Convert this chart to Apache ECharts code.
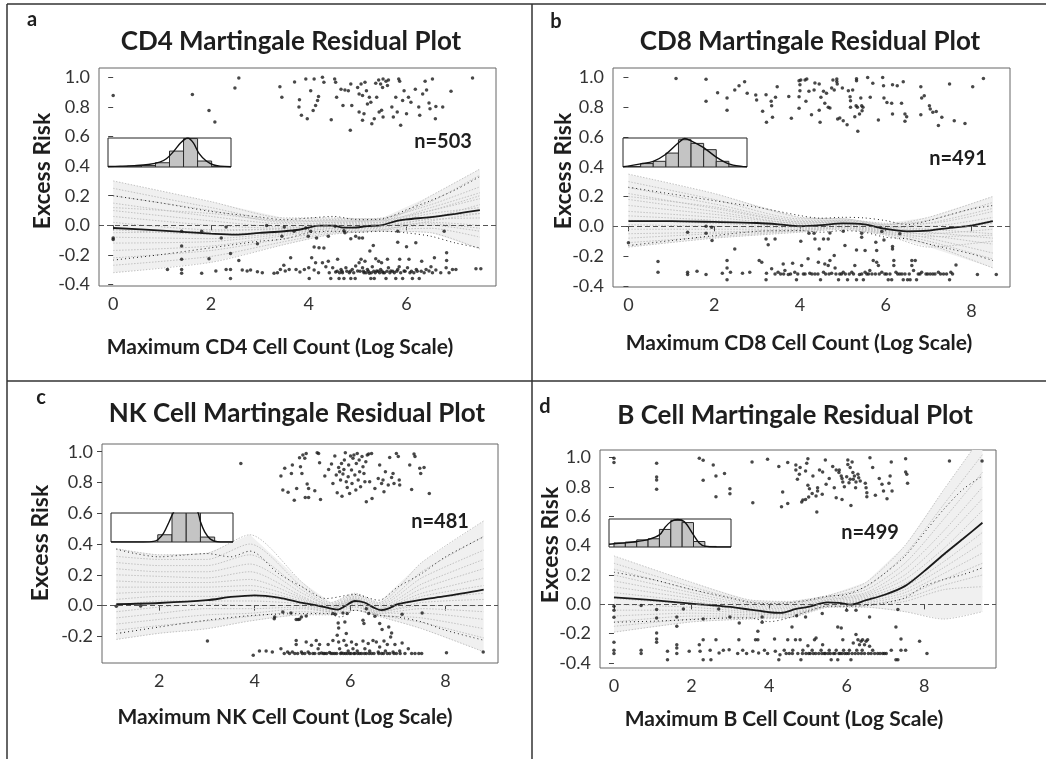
<!DOCTYPE html>
<html><head><meta charset="utf-8">
<script src="https://cdn.jsdelivr.net/npm/echarts@6/dist/echarts.min.js"></script>
<style>html,body{margin:0;padding:0;background:#fff}#c{width:1046px;height:759px}</style>
</head><body><div id="c"></div>
<script>
// ---------------- tick labels ----------------
const yTicksFull = [-0.4,-0.2,0,0.2,0.4,0.6,0.8,1.0];
const yTicksNK = [-0.2,0,0.2,0.4,0.6,0.8,1.0];
const cd4XTicks = [0,2,4,6];
const cd8XTicks = [0,2,4,6,8];
const nkXTicks = [2,4,6,8];
const bXTicks = [0,2,4,6,8];

// ---------------- texts ----------------
const panelLetters = ['a','b','c','d'];
const panelTitles = ['CD4 Martingale Residual Plot','CD8 Martingale Residual Plot','NK Cell Martingale Residual Plot','B Cell Martingale Residual Plot'];
const nLabels = ['n=503','n=491','n=481','n=499'];
const yTitle = 'Excess Risk';
const xTitles = ['Maximum CD4 Cell Count (Log Scale)','Maximum CD8 Cell Count (Log Scale)','Maximum NK Cell Count (Log Scale)','Maximum B Cell Count (Log Scale)'];

// ---------------- CD4 ----------------
const cd4Points = [
[0,0.877],[1.62,0.884],[1.96,0.776],[2.08,0.698],[2.49,0.928],[2.57,0.996],[3.41,0.937],[3.45,0.866],[3.71,0.969],[3.81,0.848],[3.80,0.80],[3.85,0.743],[3.97,0.72],[3.94,0.989],[4.04,0.91],[4.11,0.989],[4.14,0.81],[4.18,0.843],[4.09,0.776],[4.28,1.0],[4.2,0.87],[4.31,0.966],[4.46,0.714],[4.53,0.989],[4.55,0.966],[4.57,0.866],[4.66,0.92],[4.70,0.81],[4.74,0.915],[4.81,0.91],[4.86,0.955],[4.85,0.642],[4.88,0.81],[5.0,0.932],[5.03,0.888],[5.07,0.955],[5.1,0.877],[5.03,0.766],[5.13,0.754],[5.1,0.71],[5.15,0.966],[5.18,0.91],[5.24,0.866],[5.27,0.832],[5.2,0.82],[5.29,0.687],[5.34,0.72],[5.37,0.96],[5.39,0.866],[5.44,0.766],[5.43,0.982],[5.47,0.955],[5.51,0.932],[5.49,0.777],[5.52,0.989],[5.58,0.973],[5.61,0.944],[5.52,0.732],[5.63,0.982],[5.70,0.799],[5.73,0.732],[5.78,0.866],[5.84,0.989],[5.86,0.973],[5.81,0.766],[5.88,0.676],[5.92,0.843],[5.95,0.91],[6.0,0.754],[6.04,0.866],[6.09,0.832],[6.18,0.92],[6.25,0.799],[6.27,0.743],[6.33,0.888],[6.38,0.973],[6.41,0.915],[6.46,0.826],[6.48,0.788],[6.53,0.989],[6.59,0.72],[6.60,0.803],[6.74,0.799],[6.91,0.906],[7.35,0.996],
[0,-0.085],[0,-0.095],[1.40,-0.04],[1.81,-0.04],[2.31,-0.012],[2.21,-0.085],[1.40,-0.14],[2.40,-0.19],[2.95,-0.125],[3.14,-0.002],[3.50,-0.012],[3.45,-0.074],[3.70,-0.04],[3.94,-0.018],[3.99,-0.074],[4.16,-0.085],[4.04,-0.04],[4.40,-0.074],[4.54,-0.007],[4.72,-0.036],[4.74,-0.05],[4.86,-0.09],[4.96,-0.074],[5.03,-0.085],[5.1,-0.085],[5.82,-0.04],[5.82,-0.114],[6.77,-0.04],[4.11,-0.147],[4.21,-0.152],[4.31,-0.154],[5.32,-0.136],[5.25,-0.174],[6.0,-0.145],[6.19,-0.118],
[1.11,-0.298],[1.40,-0.23],[1.40,-0.298],[1.40,-0.324],[1.96,-0.226],[1.81,-0.324],[2.10,-0.309],[2.31,-0.298],[2.40,-0.298],[2.40,-0.36],[2.57,-0.237],[2.64,-0.302],[2.74,-0.309],[2.81,-0.302],[2.95,-0.313],[3.05,-0.32],[3.29,-0.324],[3.36,-0.32],[3.42,-0.298],[3.49,-0.27],[3.52,-0.309],[3.60,-0.298],[3.63,-0.219],[3.74,-0.298],[3.82,-0.315],[3.91,-0.298],[4.0,-0.286],[4.01,-0.36],[4.06,-0.219],[4.14,-0.253],[4.11,-0.302],[4.20,-0.32],[4.28,-0.253],[4.35,-0.28],[4.40,-0.242],[4.42,-0.32],[4.45,-0.36],[4.49,-0.286],[4.55,-0.315],[4.59,-0.23],[4.62,-0.36],[4.66,-0.298],[4.69,-0.32],[4.72,-0.36],[4.76,-0.286],[4.83,-0.32],[4.86,-0.36],[4.89,-0.298],[4.95,-0.36],[4.96,-0.275],[5.0,-0.309],[5.03,-0.253],[5.07,-0.23],[5.1,-0.286],[5.13,-0.32],[5.15,-0.242],[5.20,-0.298],[5.24,-0.324],[5.27,-0.36],[5.30,-0.28],[5.34,-0.36],[5.37,-0.226],[5.39,-0.309],[5.43,-0.242],[5.47,-0.298],[5.49,-0.253],[5.52,-0.32],[5.58,-0.36],[5.61,-0.23],[5.63,-0.286],[5.68,-0.309],[5.75,-0.32],[5.78,-0.36],[5.82,-0.298],[5.85,-0.28],[5.86,-0.23],[5.92,-0.36],[5.95,-0.309],[6.02,-0.286],[6.05,-0.23],[6.07,-0.32],[6.12,-0.36],[6.20,-0.298],[6.26,-0.36],[6.31,-0.242],[6.36,-0.32],[6.40,-0.298],[6.46,-0.309],[6.50,-0.28],[6.53,-0.32],[6.57,-0.219],[6.60,-0.302],[6.70,-0.32],[6.81,-0.286],[6.82,-0.186],[6.82,-0.237],[6.87,-0.32],[6.94,-0.298],[7.01,-0.298],[7.42,-0.293],[7.52,-0.293],
[4.58,-0.31],[4.63,-0.32],[4.68,-0.31],[4.78,-0.31],[4.85,-0.31],[4.92,-0.32],[5.05,-0.31],[5.12,-0.31],[5.17,-0.32],[5.22,-0.31],[5.28,-0.32],[5.33,-0.31],[5.36,-0.32],[5.42,-0.31],[5.45,-0.32],[5.5,-0.31],[5.55,-0.32],[5.6,-0.31],[5.66,-0.32],[5.72,-0.31],[5.8,-0.31],[5.88,-0.32],[5.97,-0.31],[6.1,-0.31],[6.15,-0.32],[6.22,-0.31],[6.3,-0.31]
];
const cd4Curve = [[0,-0.018],[1,-0.036],[2,-0.056],[2.5,-0.063],[3,-0.051],[3.5,-0.04],[3.8,-0.03],[4.0,-0.015],[4.2,-0.002],[4.5,-0.002],[4.7,-0.015],[4.9,-0.016],[5.2,-0.005],[5.5,0.002],[5.8,0.03],[6.0,0.04],[6.5,0.056],[7.0,0.078],[7.5,0.103]];
const cd4Upper = [[0,0.20],[1,0.15],[2,0.094],[3,0.056],[3.5,0.038],[4,0.049],[4.5,0.06],[5,0.038],[5.5,0.043],[6,0.105],[6.5,0.168],[7,0.24],[7.5,0.33]];
const cd4Lower = [[0,-0.235],[1,-0.197],[2,-0.152],[3,-0.107],[3.5,-0.092],[4,-0.051],[4.5,-0.04],[5,-0.047],[5.5,-0.04],[6,-0.051],[6.5,-0.074],[7,-0.119],[7.5,-0.152]];
const cd4BootX = [0,2,3.5,4.5,5.5,6.5,7.5];
const cd4Boot = [
[0.30,0.16,0.05,0.05,0.04,0.10,0.18],
[0.25,0.12,0.03,0.04,0.05,0.14,0.26],
[0.20,0.10,0.02,0.03,0.03,0.12,0.22],
[0.15,0.06,0.01,0.02,0.04,0.16,0.34],
[0.10,0.03,-0.01,0.02,0.02,0.08,0.12],
[0.06,0.00,-0.02,0.01,0.02,0.10,0.20],
[0.02,-0.03,-0.03,0.00,0.01,0.06,0.08],
[-0.03,-0.06,-0.04,-0.01,0.00,0.04,0.05],
[-0.08,-0.09,-0.05,-0.02,-0.01,0.05,0.14],
[-0.12,-0.11,-0.06,-0.02,-0.01,0.02,0.00],
[-0.17,-0.14,-0.07,-0.03,-0.02,0.00,-0.04],
[-0.22,-0.17,-0.09,-0.04,-0.03,-0.02,-0.08],
[-0.27,-0.21,-0.11,-0.05,-0.03,0.03,0.08],
[-0.32,-0.25,-0.13,-0.06,-0.04,-0.05,-0.16],
[0.12,0.08,0.03,0.03,0.03,0.20,0.38],
[-0.05,-0.04,-0.02,0.00,0.00,0.01,-0.02]
];
const cd4HistBars = [0.01,0.03,0.05,0.15,0.56,1.0,0.21,0.01];
const cd4HistCurve = [[-0.38,0.02],[0.5,0.03],[1.5,0.05],[2.5,0.09],[3.3,0.17],[3.8,0.3],[4.3,0.55],[4.8,0.85],[5.3,1.02],[5.7,0.85],[6.1,0.48],[6.6,0.22],[7.1,0.08],[7.6,0.03],[8.38,0.01]];

// ---------------- CD8 ----------------
const cd8Points = [
[1.11,0.993],[1.81,0.987],[1.81,0.84],[2.08,0.897],[2.30,0.861],[2.30,0.78],[2.48,0.915],[2.58,0.944],[2.71,0.971],[2.77,0.893],[2.97,0.881],[2.99,0.848],[3.13,0.772],[3.21,0.884],[3.22,0.698],[3.33,0.839],[3.34,0.81],[3.36,0.732],[3.43,0.866],[3.47,0.937],[3.74,0.872],[3.80,0.725],[3.98,0.978],[4.02,0.982],[4.0,0.951],[3.98,0.87],[4.0,0.91],[3.98,0.792],[4.12,0.982],[4.16,0.989],[4.14,0.839],[4.21,0.906],[4.27,0.749],[4.35,0.962],[4.33,0.915],[4.45,0.955],[4.45,0.78],[4.47,0.698],[4.49,0.866],[4.55,0.906],[4.58,0.826],[4.62,0.893],[4.66,0.799],[4.70,0.794],[4.74,0.928],[4.77,0.982],[4.80,0.915],[4.86,0.989],[4.86,0.973],[4.87,0.955],[4.88,0.72],[4.93,0.727],[4.99,0.928],[5.01,0.709],[5.10,0.682],[5.13,0.91],[5.17,0.87],[5.18,0.843],[5.18,0.799],[5.23,0.915],[5.28,0.736],[5.32,0.991],[5.32,0.978],[5.31,0.81],[5.34,0.799],[5.35,0.638],[5.39,0.754],[5.42,0.861],[5.44,0.81],[5.47,0.799],[5.45,0.776],[5.58,1.0],[5.64,0.866],[5.70,0.96],[5.83,0.714],[5.93,1.0],[5.95,0.944],[5.96,0.861],[6.03,0.832],[6.14,0.826],[6.16,0.951],[6.16,0.754],[6.27,0.944],[6.37,0.826],[6.41,0.971],[6.45,0.754],[6.45,0.705],[6.49,0.736],[6.82,0.937],[6.82,0.749],[6.84,0.861],[6.90,0.877],[7.02,0.81],[7.04,0.787],[7.10,0.765],[7.18,0.77],[7.23,0.676],[7.31,0.732],[7.49,0.955],[7.60,0.709],[7.85,0.691],[8.03,0.937],[8.28,0.993],
[0,-0.11],[1.38,-0.04],[1.81,0.0],[1.81,-0.047],[1.94,-0.007],[1.95,-0.096],[2.48,-0.152],[3.21,-0.085],[3.26,-0.125],[3.42,-0.085],[4.02,-0.10],[4.21,-0.047],[4.33,-0.047],[4.35,-0.085],[4.45,-0.152],[4.55,-0.085],[4.66,-0.085],[4.70,-0.045],[5.05,-0.13],[5.01,-0.034],[5.32,-0.159],[5.44,-0.047],[5.52,-0.163],[5.44,-0.074],[5.77,-0.107],[5.79,-0.163],[5.91,-0.036],[5.96,-0.092],[6.16,-0.136],[6.16,-0.152],[6.33,-0.05],
[0.69,-0.237],[0.69,-0.309],[1.38,-0.309],[1.38,-0.324],[1.60,-0.302],[1.81,-0.324],[2.19,-0.315],[2.30,-0.23],[2.30,-0.28],[2.30,-0.36],[2.38,-0.309],[2.66,-0.315],[2.83,-0.309],[3.05,-0.23],[3.11,-0.242],[3.21,-0.36],[3.22,-0.315],[3.34,-0.286],[3.42,-0.32],[3.49,-0.309],[3.61,-0.253],[3.65,-0.298],[3.73,-0.324],[3.83,-0.248],[3.88,-0.309],[3.92,-0.36],[4.04,-0.264],[4.08,-0.32],[4.19,-0.219],[4.23,-0.315],[4.35,-0.32],[4.43,-0.242],[4.48,-0.36],[4.55,-0.309],[4.58,-0.253],[4.66,-0.264],[4.70,-0.23],[4.74,-0.315],[4.80,-0.197],[4.82,-0.28],[4.90,-0.36],[4.93,-0.32],[5.01,-0.309],[5.11,-0.36],[5.15,-0.32],[5.21,-0.309],[5.28,-0.264],[5.32,-0.36],[5.39,-0.324],[5.48,-0.36],[5.52,-0.309],[5.60,-0.32],[5.63,-0.298],[5.71,-0.23],[5.79,-0.242],[5.83,-0.264],[5.85,-0.32],[5.91,-0.309],[5.98,-0.32],[6.06,-0.36],[6.14,-0.36],[6.19,-0.23],[6.19,-0.264],[6.24,-0.309],[6.33,-0.32],[6.41,-0.36],[6.45,-0.32],[6.51,-0.36],[6.57,-0.36],[6.61,-0.23],[6.61,-0.264],[6.65,-0.298],[6.69,-0.23],[6.72,-0.36],[6.76,-0.32],[6.84,-0.309],[6.94,-0.32],[7.04,-0.32],[7.15,-0.32],[7.23,-0.309],[7.35,-0.32],[7.49,-0.36],[7.52,-0.309],[7.56,-0.32],[7.64,-0.26],[8.14,-0.324],[8.58,-0.324],
[3.55,-0.32],[3.62,-0.32],[3.78,-0.32],[3.95,-0.32],[4.12,-0.32],[4.28,-0.32],[4.42,-0.32],[4.6,-0.32],[4.68,-0.32],[4.84,-0.32],[4.97,-0.32],[5.06,-0.32],[5.25,-0.32],[5.44,-0.32],[5.56,-0.32],[5.68,-0.32],[5.76,-0.32],[6.02,-0.32],[6.1,-0.32],[6.28,-0.32],[6.38,-0.32],[6.55,-0.32],[6.8,-0.32],[6.98,-0.32],[7.1,-0.32],[7.28,-0.32],[7.42,-0.32]
];
const cd8Curve = [[0,0.034],[1,0.034],[2,0.029],[3,0.022],[3.5,0.013],[4,0.0],[4.5,0.007],[5,0.02],[5.5,0.013],[6,-0.018],[6.5,-0.034],[7,-0.029],[7.5,-0.011],[8,0.004],[8.5,0.034]];
const cd8Upper = [[0,0.262],[1,0.217],[2,0.172],[3,0.128],[4,0.072],[4.5,0.054],[5,0.06],[5.5,0.056],[6,0.038],[6.5,0.011],[7,0.038],[7.5,0.078],[8,0.116],[8.5,0.139]];
const cd8Lower = [[0,-0.13],[1,-0.096],[2,-0.063],[3,-0.034],[4,-0.029],[4.5,-0.04],[5,-0.029],[5.5,-0.04],[6,-0.074],[6.5,-0.085],[7,-0.119],[7.5,-0.152],[8,-0.186],[8.5,-0.23]];
const cd8BootX = [0,2,4,5,6,7,8.5];
const cd8Boot = [
[0.35,0.22,0.06,0.05,0.02,0.02,0.10],
[0.30,0.18,0.05,0.05,0.01,0.04,0.16],
[0.26,0.15,0.04,0.04,0.00,-0.02,-0.05],
[0.22,0.12,0.03,0.04,0.01,0.06,0.20],
[0.18,0.10,0.02,0.03,-0.01,-0.04,-0.08],
[0.14,0.08,0.02,0.03,0.00,0.00,0.06],
[0.10,0.06,0.01,0.02,-0.02,-0.02,0.02],
[0.07,0.04,0.00,0.02,-0.02,-0.06,-0.12],
[0.04,0.02,0.00,0.01,-0.03,-0.03,0.04],
[0.01,0.00,-0.01,0.01,-0.03,-0.08,-0.18],
[-0.02,-0.02,-0.02,0.00,-0.04,-0.05,-0.02],
[-0.05,-0.04,-0.02,0.00,-0.04,-0.10,-0.22],
[-0.08,-0.05,-0.03,-0.01,-0.05,-0.07,-0.06],
[-0.11,-0.07,-0.03,-0.01,-0.05,-0.12,-0.28],
[-0.14,-0.08,-0.04,-0.02,-0.06,-0.14,-0.10],
[0.20,0.13,0.03,0.03,-0.01,0.02,0.12]
];
const cd8HistBars = [0.02,0.12,0.2,0.49,0.96,0.83,0.61,0.2,0.03];
const cd8HistCurve = [[-0.4,0.01],[0,0.03],[1,0.11],[2,0.2],[3,0.45],[4,0.85],[4.5,1.0],[5,0.92],[6,0.68],[7,0.35],[8,0.11],[9,0.02],[9.44,0.01]];

// ---------------- NK ----------------
const nkPoints = [
[3.71,0.924],[4.55,0.842],[4.59,0.751],[4.63,0.892],[4.70,0.736],[4.77,0.859],[4.79,0.913],[4.83,0.685],[4.88,0.761],[4.94,0.961],[4.96,0.902],[4.99,0.859],[5.01,0.978],[5.05,0.957],[5.08,0.989],[5.06,0.703],[5.10,0.79],[5.13,0.703],[5.13,0.761],[5.26,0.746],[5.31,0.993],[5.34,0.989],[5.36,0.928],[5.38,0.69],[5.47,0.842],[5.55,0.885],[5.61,0.92],[5.64,0.794],[5.68,0.972],[5.71,0.848],[5.73,0.733],[5.76,0.898],[5.78,0.87],[5.80,0.816],[5.82,0.924],[5.83,0.711],[5.85,0.855],[5.87,0.885],[5.88,0.946],[5.90,0.993],[5.92,0.805],[5.94,0.768],[5.96,0.837],[5.97,0.913],[5.99,0.729],[6.01,0.972],[6.03,0.881],[6.04,0.794],[6.06,0.957],[6.08,0.978],[6.10,0.848],[6.12,0.751],[6.13,0.924],[6.15,0.989],[6.17,0.816],[6.19,0.946],[6.20,0.87],[6.22,0.772],[6.25,0.968],[6.27,0.902],[6.29,0.859],[6.31,0.805],[6.33,0.935],[6.34,0.675],[6.36,0.978],[6.39,0.985],[6.41,0.805],[6.45,0.989],[6.46,0.696],[6.52,0.761],[6.59,0.826],[6.62,0.913],[6.66,0.794],[6.69,0.816],[6.71,0.74],[6.74,0.87],[6.80,0.783],[6.83,0.963],[6.87,0.833],[6.90,0.859],[6.92,0.794],[6.97,0.989],[7.01,0.968],[7.03,0.816],[7.04,0.783],[7.25,0.913],[7.29,0.755],[7.34,0.985],[7.36,0.968],[7.46,0.892],[7.48,0.859],[7.55,0.898],[7.66,0.729],
[1.10,-0.004],[1.61,-0.002],[3.01,-0.23],[4.41,-0.085],[4.42,-0.074],[4.59,-0.041],[4.76,-0.048],[4.87,-0.091],[4.91,-0.091],[4.94,-0.089],[4.98,-0.074],[5.08,-0.067],[5.64,-0.052],[5.69,-0.056],[5.75,-0.113],[5.76,-0.145],[5.85,-0.048],[5.89,-0.106],[5.94,-0.052],[5.92,-0.182],[6.27,-0.095],[6.29,-0.117],[6.34,-0.02],[6.39,-0.052],[6.52,-0.069],[6.62,-0.117],[6.67,-0.156],[6.81,-0.139],[6.87,-0.178],[7.09,-0.056],[7.51,-0.048],[8.02,-0.306],[8.79,-0.302],
[3.97,-0.323],[4.10,-0.295],[4.24,-0.295],[4.37,-0.302],[4.55,-0.28],[4.69,-0.302],[4.73,-0.312],[4.79,-0.302],[4.87,-0.226],[4.87,-0.252],[4.90,-0.312],[4.98,-0.302],[5.05,-0.312],[5.08,-0.236],[5.12,-0.302],[5.19,-0.258],[5.22,-0.312],[5.29,-0.226],[5.33,-0.28],[5.36,-0.252],[5.40,-0.308],[5.47,-0.312],[5.54,-0.252],[5.57,-0.304],[5.64,-0.226],[5.68,-0.312],[5.73,-0.193],[5.76,-0.236],[5.78,-0.28],[5.82,-0.308],[5.87,-0.226],[5.90,-0.312],[5.92,-0.258],[5.96,-0.295],[5.99,-0.312],[6.03,-0.236],[6.06,-0.28],[6.10,-0.312],[6.13,-0.252],[6.15,-0.295],[6.20,-0.312],[6.27,-0.23],[6.31,-0.28],[6.34,-0.312],[6.38,-0.247],[6.41,-0.295],[6.45,-0.312],[6.48,-0.226],[6.55,-0.236],[6.59,-0.302],[6.62,-0.269],[6.66,-0.312],[6.71,-0.23],[6.74,-0.295],[6.78,-0.252],[6.83,-0.312],[6.85,-0.204],[6.90,-0.302],[6.94,-0.252],[6.97,-0.312],[7.04,-0.295],[7.09,-0.243],[7.15,-0.312],[7.22,-0.28],[7.29,-0.312],[7.36,-0.312],[7.44,-0.312],[7.50,-0.312],
[4.62,-0.312],[4.84,-0.312],[5.0,-0.312],[5.15,-0.312],[5.26,-0.312],[5.35,-0.312],[5.44,-0.312],[5.51,-0.312],[5.6,-0.312],[5.64,-0.312],[5.72,-0.312],[5.8,-0.312],[5.86,-0.312],[5.94,-0.312],[6.02,-0.312],[6.08,-0.312],[6.16,-0.312],[6.24,-0.312],[6.3,-0.312],[6.4,-0.312],[6.5,-0.312],[6.6,-0.312],[6.7,-0.312],[6.78,-0.312],[6.92,-0.312],[7.05,-0.312]
];
const nkCurve = [[1.1,0.009],[2,0.017],[3,0.035],[3.5,0.056],[4,0.067],[4.5,0.052],[5,0.017],[5.3,0.002],[5.6,-0.02],[5.75,-0.026],[5.9,-0.002],[6.1,0.03],[6.3,0.02],[6.5,-0.013],[6.65,-0.03],[6.8,-0.02],[7,0.009],[7.5,0.039],[8,0.061],[8.8,0.104]];
const nkUpper = [[1.1,0.367],[1.5,0.338],[2,0.317],[2.5,0.328],[3,0.338],[3.5,0.317],[3.9,0.354],[4.5,0.208],[5,0.121],[5.5,0.046],[6.1,0.072],[6.6,0.035],[7,0.121],[7.5,0.208],[8,0.317],[8.8,0.447]];
const nkLower = [[1.1,-0.182],[2,-0.139],[3,-0.095],[4,-0.063],[5,-0.052],[5.5,-0.052],[5.8,-0.074],[6.1,-0.03],[6.6,-0.063],[7,-0.074],[7.5,-0.106],[8,-0.16],[8.8,-0.225]];
const nkBootX = [1.1,2,3,3.9,5,5.6,6.1,6.6,7.5,8.8];
const nkBoot = [
[0.37,0.33,0.34,0.46,0.15,0.02,0.08,0.02,0.28,0.55],
[0.32,0.30,0.30,0.40,0.12,0.01,0.07,0.01,0.22,0.45],
[0.28,0.26,0.26,0.33,0.10,0.00,0.06,0.00,0.18,0.36],
[0.24,0.22,0.22,0.27,0.08,0.00,0.05,-0.01,0.14,0.30],
[0.20,0.19,0.18,0.22,0.06,-0.01,0.05,-0.02,0.11,0.24],
[0.16,0.15,0.15,0.17,0.05,-0.01,0.04,-0.02,0.08,0.18],
[0.12,0.12,0.12,0.13,0.04,-0.02,0.04,-0.03,0.06,0.13],
[0.08,0.09,0.09,0.10,0.03,-0.02,0.03,-0.03,0.04,0.08],
[0.04,0.06,0.06,0.06,0.02,-0.02,0.03,-0.04,0.02,0.04],
[0.00,0.03,0.03,0.03,0.01,-0.03,0.02,-0.04,0.00,0.00],
[-0.04,-0.01,0.01,0.00,0.00,-0.03,0.02,-0.05,-0.02,-0.04],
[-0.08,-0.05,-0.02,-0.02,-0.01,-0.04,0.01,-0.05,-0.05,-0.09],
[-0.12,-0.09,-0.06,-0.05,-0.02,-0.04,0.00,-0.06,-0.08,-0.15],
[-0.16,-0.13,-0.10,-0.07,-0.04,-0.05,-0.01,-0.06,-0.11,-0.21],
[-0.22,-0.18,-0.15,-0.10,-0.06,-0.06,-0.03,-0.07,-0.15,-0.30]
];
const nkHistBars = [0.25,1.0,1.0,0.17];
const nkHistCurve = [[-3.29,0],[-1,0],[-0.3,0.02],[0,0.08],[0.4,0.3],[0.8,0.7],[1.2,1.1],[1.6,1.25],[2.0,1.12],[2.4,1.25],[2.8,1.05],[3.0,0.7],[3.3,0.35],[3.7,0.1],[4.2,0.01],[5.29,0]];

// ---------------- B cell ----------------
const bPoints = [
[0,0.995],[0,0.966],[1.10,0.961],[1.10,0.868],[1.10,0.847],[1.10,0.784],[2.20,0.995],[2.30,0.982],[2.30,0.845],[2.56,0.95],[2.63,0.875],[2.63,0.734],[2.85,0.891],[2.99,0.788],[2.99,0.754],[3.56,0.970],[3.58,0.693],[3.96,0.989],[4.25,0.939],[4.32,0.665],[4.35,0.766],[4.48,0.688],[4.48,0.966],[4.69,0.95],[4.69,0.916],[4.73,0.852],[4.78,0.886],[4.80,0.932],[4.84,0.697],[4.87,0.711],[4.94,0.909],[4.94,0.715],[4.97,0.961],[5.0,0.993],[5.0,0.811],[5.02,0.731],[5.04,0.788],[5.11,0.756],[5.13,0.875],[5.21,0.738],[5.23,0.629],[5.25,0.772],[5.25,0.795],[5.30,0.916],[5.37,0.75],[5.38,0.902],[5.45,0.984],[5.47,0.818],[5.55,0.857],[5.64,0.939],[5.68,0.795],[5.73,0.916],[5.73,0.727],[5.80,0.898],[5.81,0.916],[5.86,0.875],[5.88,0.715],[5.88,0.857],[5.90,0.834],[5.94,0.802],[6.00,0.870],[6.03,0.984],[6.03,0.954],[6.06,0.829],[6.09,0.932],[6.09,0.852],[6.11,0.674],[6.14,0.97],[6.16,0.898],[6.17,0.852],[6.20,0.875],[6.23,0.795],[6.24,0.834],[6.29,0.886],[6.31,0.863],[6.35,0.841],[6.48,0.825],[6.50,0.795],[6.52,0.761],[6.52,0.734],[6.60,1.0],[6.67,0.932],[6.74,0.743],[6.84,0.857],[6.91,0.818],[6.95,0.772],[7.04,0.72],[7.09,0.825],[7.12,0.875],[7.17,0.772],[7.15,0.97],[7.52,0.993],[7.52,0.902],[7.55,0.886],[7.57,0.825],[8.65,0.977],[9.49,0.977],
[0,-0.013],[0,-0.04],[0,-0.088],[0.70,-0.008],[1.10,-0.036],[1.10,-0.093],[1.10,-0.195],[1.10,-0.236],[1.62,-0.086],[1.62,-0.15],[1.79,-0.031],[2.30,-0.10],[2.70,-0.031],[2.99,-0.086],[3.23,-0.127],[3.71,-0.184],[3.82,-0.086],[3.82,-0.122],[4.59,-0.154],[4.71,-0.077],[4.94,-0.086],[5.37,-0.063],[5.77,-0.154],[5.86,-0.161],[6.0,-0.04],[6.24,-0.04],[6.59,-0.086],[7.32,-0.036],[7.27,-0.154],
[0,-0.259],[0,-0.313],[0,-0.336],[0.70,-0.313],[0.70,-0.336],[1.10,-0.259],[1.38,-0.32],[1.38,-0.377],[1.62,-0.275],[1.62,-0.298],[1.62,-0.336],[1.94,-0.32],[2.20,-0.275],[2.30,-0.241],[2.22,-0.32],[2.30,-0.377],[2.50,-0.377],[2.48,-0.313],[2.63,-0.241],[2.71,-0.332],[2.82,-0.313],[2.97,-0.309],[3.22,-0.241],[3.19,-0.336],[3.32,-0.313],[3.42,-0.336],[3.58,-0.32],[3.65,-0.241],[3.71,-0.241],[3.73,-0.332],[3.88,-0.313],[3.96,-0.336],[4.14,-0.236],[4.16,-0.32],[4.25,-0.377],[4.28,-0.343],[4.39,-0.313],[4.48,-0.241],[4.52,-0.336],[4.61,-0.313],[4.68,-0.241],[4.74,-0.336],[4.80,-0.241],[4.82,-0.377],[4.87,-0.313],[4.95,-0.336],[5.0,-0.282],[5.06,-0.336],[5.11,-0.313],[5.17,-0.241],[5.21,-0.229],[5.28,-0.336],[5.34,-0.313],[5.38,-0.275],[5.45,-0.336],[5.55,-0.313],[5.60,-0.377],[5.66,-0.336],[5.73,-0.313],[5.77,-0.377],[5.83,-0.336],[5.90,-0.241],[5.92,-0.313],[6.0,-0.336],[6.07,-0.313],[6.11,-0.377],[6.17,-0.263],[6.24,-0.206],[6.26,-0.313],[6.29,-0.241],[6.33,-0.275],[6.37,-0.252],[6.40,-0.313],[6.41,-0.241],[6.46,-0.275],[6.50,-0.252],[6.54,-0.241],[6.59,-0.286],[6.63,-0.336],[6.67,-0.313],[6.80,-0.336],[6.93,-0.336],[7.02,-0.336],[7.15,-0.313],[7.27,-0.377],[7.32,-0.377],[7.40,-0.236],[7.40,-0.313],[7.52,-0.313],[7.88,-0.252],[8.07,-0.336],
[4.44,-0.336],[4.6,-0.336],[4.86,-0.336],[5.02,-0.336],[5.14,-0.336],[5.2,-0.336],[5.36,-0.336],[5.42,-0.336],[5.52,-0.336],[5.58,-0.336],[5.7,-0.336],[5.8,-0.336],[5.88,-0.336],[5.95,-0.336],[6.05,-0.336],[6.14,-0.336],[6.22,-0.336],[6.3,-0.336],[6.38,-0.336],[6.46,-0.336],[6.56,-0.336],[6.72,-0.336],[6.86,-0.336],[6.97,-0.336]
];
const bCurve = [[0,0.048],[1,0.028],[2,0.005],[3,-0.018],[3.5,-0.036],[4,-0.054],[4.3,-0.058],[4.7,-0.031],[5,-0.018],[5.5,0.014],[5.8,0.01],[6.1,-0.002],[6.5,0.028],[7,0.067],[7.5,0.124],[8,0.226],[8.5,0.34],[9,0.447],[9.5,0.556]];
const bUpper = [[0,0.219],[1,0.169],[2,0.101],[3,0.044],[3.5,0.014],[4,0.005],[4.5,0.01],[5,0.028],[5.5,0.055],[6,0.067],[6.5,0.124],[7,0.215],[7.5,0.328],[8,0.488],[8.5,0.647],[9,0.784],[9.5,0.875]];
const bLower = [[0,-0.122],[1,-0.115],[2,-0.104],[3,-0.093],[3.5,-0.093],[4,-0.118],[4.5,-0.093],[5,-0.047],[5.5,-0.013],[6,-0.013],[6.5,-0.008],[7,0.01],[7.5,0.044],[8,0.124],[8.5,0.169],[9,0.203],[9.5,0.249]];
const bBootX = [0,2,3.5,4.5,5.5,6.5,7.5,8.5,9.5];
const bBoot = [
[0.33,0.15,0.03,0.02,0.06,0.15,0.40,0.78,1.15],
[0.28,0.12,0.02,0.01,0.05,0.12,0.34,0.68,1.02],
[0.24,0.10,0.01,0.00,0.05,0.10,0.28,0.58,0.90],
[0.20,0.08,0.00,-0.01,0.04,0.08,0.24,0.50,0.80],
[0.16,0.06,-0.01,-0.02,0.03,0.07,0.20,0.44,0.72],
[0.12,0.04,-0.02,-0.03,0.03,0.06,0.17,0.38,0.64],
[0.08,0.02,-0.03,-0.04,0.02,0.05,0.14,0.33,0.56],
[0.04,0.00,-0.04,-0.05,0.01,0.04,0.12,0.29,0.49],
[0.00,-0.02,-0.05,-0.06,0.00,0.03,0.10,0.25,0.42],
[-0.04,-0.04,-0.06,-0.07,0.00,0.02,0.08,0.21,0.35],
[-0.08,-0.06,-0.07,-0.07,-0.01,0.01,0.06,0.17,0.28],
[-0.12,-0.08,-0.08,-0.08,-0.01,0.00,0.04,0.13,0.20],
[-0.15,-0.10,-0.09,-0.09,-0.02,-0.01,0.02,0.10,0.12],
[-0.19,-0.12,-0.10,-0.09,-0.02,-0.02,-0.05,-0.10,-0.05]
];
const bHistBars = [0.15,0.18,0.26,0.3,0.64,0.97,0.89,0.2,0.02];
const bHistCurve = [[-0.44,0.1],[0,0.12],[1,0.15],[2,0.2],[3,0.27],[4,0.44],[4.5,0.72],[5,0.92],[5.6,1.0],[6.2,0.92],[7,0.44],[7.5,0.15],[8,0.03],[9,0.0],[10.3,0.0]];

// ---------------- layout ----------------
const FONT = 'Lato, "Open Sans", sans-serif';
const panels = [
  {grid:{left:99,top:68,width:397,height:218}, x:[-0.29,7.83], y:[-0.41,1.063], xt:cd4XTicks, yt:yTicksFull,
   inset:{left:108,top:138,width:123,height:29}, ix:[-0.38,8.38], iy:[0,1.02],
   pts:cd4Points, curve:cd4Curve, up:cd4Upper, lo:cd4Lower, bx:cd4BootX, boot:cd4Boot, hb:cd4HistBars, hc:cd4HistCurve},
  {grid:{left:613,top:68,width:397,height:219}, x:[-0.36,8.90], y:[-0.408,1.063], xt:cd8XTicks, yt:yTicksFull, low8:true,
   inset:{left:623,top:138,width:124,height:29}, ix:[-0.4,9.44], iy:[0,1.02],
   pts:cd8Points, curve:cd8Curve, up:cd8Upper, lo:cd8Lower, bx:cd8BootX, boot:cd8Boot, hb:cd8HistBars, hc:cd8HistCurve},
  {grid:{left:102,top:444,width:396,height:219}, x:[0.80,9.10], y:[-0.373,1.05], xt:nkXTicks, yt:yTicksNK,
   inset:{left:111,top:513,width:122,height:29}, ix:[-3.29,5.29], iy:[0,1.0],
   pts:nkPoints, curve:nkCurve, up:nkUpper, lo:nkLower, bx:nkBootX, boot:nkBoot, hb:nkHistBars, hc:nkHistCurve},
  {grid:{left:600,top:450,width:396,height:218}, x:[-0.36,9.85], y:[-0.434,1.052], xt:bXTicks, yt:yTicksFull,
   inset:{left:609,top:519,width:122,height:28}, ix:[-0.44,10.3], iy:[0,1.02],
   pts:bPoints, curve:bCurve, up:bUpper, lo:bLower, bx:bBootX, boot:bBoot, hb:bHistBars, hc:bHistCurve}
];

const grids = [], xAxes = [], yAxes = [], series = [];
panels.forEach((p, i) => {
  grids.push(Object.assign({show:true, borderColor:'#666', borderWidth:1, backgroundColor:'transparent', outerBoundsMode:'none', containLabel:false, z:0}, p.grid));
  xAxes.push({type:'value', gridIndex:i, min:p.x[0], max:p.x[1],
    axisLine:{show:false}, splitLine:{show:false},
    axisTick:{show:true, customValues:p.xt, length:5, lineStyle:{color:'#444'}},
    axisLabel:{show:true, customValues:p.xt, margin:9, fontSize:18, color:'#333', fontFamily:FONT,
      formatter: v => (p.low8 && v === 8) ? '{low|8}' : String(v),
      rich:{low:{padding:[6,0,0,0], fontSize:18, color:'#333', fontFamily:FONT}}}});
  yAxes.push({type:'value', gridIndex:i, min:p.y[0], max:p.y[1],
    axisLine:{show:false}, splitLine:{show:false},
    axisTick:{show:true, customValues:p.yt, length:5, lineStyle:{color:'#444'}},
    axisLabel:{show:true, customValues:p.yt, margin:9, fontSize:18, color:'#333', fontFamily:FONT,
      formatter: v => v.toFixed(1)}});
  // light envelope of the bootstrap curves (min / max of the read lines at each knot)
  const envLo = p.bx.map((x, k) => [x, Math.min.apply(null, p.boot.map(l => l[k]))]);
  const envHi = p.bx.map((x, k) => [x, Math.max.apply(null, p.boot.map(l => l[k]))]);
  series.push({type:'custom', xAxisIndex:i, yAxisIndex:i, silent:true, z:0, clip:true, data:[[p.bx[0], 0]],
    renderItem:function(params, api){
      const pts = envHi.map(q => api.coord(q)).concat(envLo.slice().reverse().map(q => api.coord(q)));
      return {type:'polygon', shape:{points:pts}, style:{fill:'#f0f0f0'}};
    }});
  // bootstrap grey lines
  p.boot.forEach(line => series.push({type:'line', xAxisIndex:i, yAxisIndex:i, silent:true,
    data:p.bx.map((x, k) => [x, line[k]]), symbol:'none', smooth:0.25, z:1,
    lineStyle:{color:'#c2c2c2', width:1, type:[1.5,1.5]}}));
  [p.up, p.lo].forEach(d => series.push({type:'line', xAxisIndex:i, yAxisIndex:i, silent:true,
    data:d, symbol:'none', smooth:0.3, z:3, lineStyle:{color:'#222', width:1, type:[1,3]}}));
  series.push({type:'line', xAxisIndex:i, yAxisIndex:i, silent:true, data:p.curve, symbol:'none',
    smooth:0.3, z:4, lineStyle:{color:'#1a1a1a', width:1.8}});
  series.push({type:'scatter', xAxisIndex:i, yAxisIndex:i, silent:true, data:p.pts, symbol:'circle',
    symbolSize:3.5, z:5, itemStyle:{color:'#1a1a1a'},
    markLine:{silent:true, symbol:['none','none'], label:{show:false}, animation:false,
      lineStyle:{color:'#555', width:1, type:[5,3]}, data:[{yAxis:0}]}});
});
// insets
panels.forEach((p, i) => {
  const gi = 4 + i;
  grids.push(Object.assign({show:true, borderColor:'#222', borderWidth:1, backgroundColor:'#fff', outerBoundsMode:'none', containLabel:false, z:6}, p.inset));
  xAxes.push({type:'value', gridIndex:gi, min:p.ix[0], max:p.ix[1], show:false, splitLine:{show:false}});
  yAxes.push({type:'value', gridIndex:gi, min:p.iy[0], max:p.iy[1], show:false, splitLine:{show:false}});
  series.push({type:'custom', xAxisIndex:gi, yAxisIndex:gi, silent:true, z:7, clip:true,
    data:p.hb.map((h, k) => [k, h]),
    renderItem:function(params, api){
      const k = api.value(0), h = api.value(1);
      const a = api.coord([k, 0]), b = api.coord([k + 1, h]);
      return {type:'rect', shape:{x:a[0], y:b[1], width:b[0]-a[0], height:a[1]-b[1]},
        style:{fill:'#c4c4c4', stroke:'#2a2a2a', lineWidth:1}};
    }});
  series.push({type:'line', xAxisIndex:gi, yAxisIndex:gi, silent:true, data:p.hc, symbol:'none',
    smooth:0.35, z:8, clip:true, lineStyle:{color:'#111', width:1.4}});
});

// texts and panel borders
const G = [];
const txt = (t, x, y, size, rot) => G.push({type:'text', x:x, y:y, rotation:rot || 0, z:20,
  style:{text:t, x:0, y:0, font:'bold ' + size + 'px ' + FONT, fill:'#1e1e1e',
    textAlign:'center', textVerticalAlign:'middle', align:'center', verticalAlign:'middle'}});
const ln = (x1, y1, x2, y2) => G.push({type:'line', z:20, shape:{x1:x1, y1:y1, x2:x2, y2:y2}, style:{stroke:'#333', lineWidth:1.5}});
ln(7,4,1046,4); ln(7,4,7,759); ln(532,4,532,759); ln(7,381,1046,381);
const letterPos = [[32,20],[556,22],[41,398],[545,407]];
const titlePos = [[291,42],[810,42],[297,414],[795,416]];
const nPos = [[443,142],[958,159],[440,522],[870,533]];
const yTitlePos = [[43,171],[564,171],[41,543],[551,545]];
const xTitlePos = [[280,347],[799,343],[285,717],[784,719]];
for (let i = 0; i < 4; i++) {
  txt(panelLetters[i], letterPos[i][0], letterPos[i][1], 20);
  txt(panelTitles[i], titlePos[i][0], titlePos[i][1], 26);
  txt(nLabels[i], nPos[i][0], nPos[i][1], 20);
  txt(yTitle, yTitlePos[i][0], yTitlePos[i][1], 23, Math.PI / 2);
  txt(xTitles[i], xTitlePos[i][0], xTitlePos[i][1], 21);
}

const chart = echarts.init(document.getElementById('c'), null, {renderer:'canvas'});
chart.setOption({animation:false, backgroundColor:'#fff', grid:grids, xAxis:xAxes, yAxis:yAxes, series:series, graphic:{elements:G}});
</script></body></html>
